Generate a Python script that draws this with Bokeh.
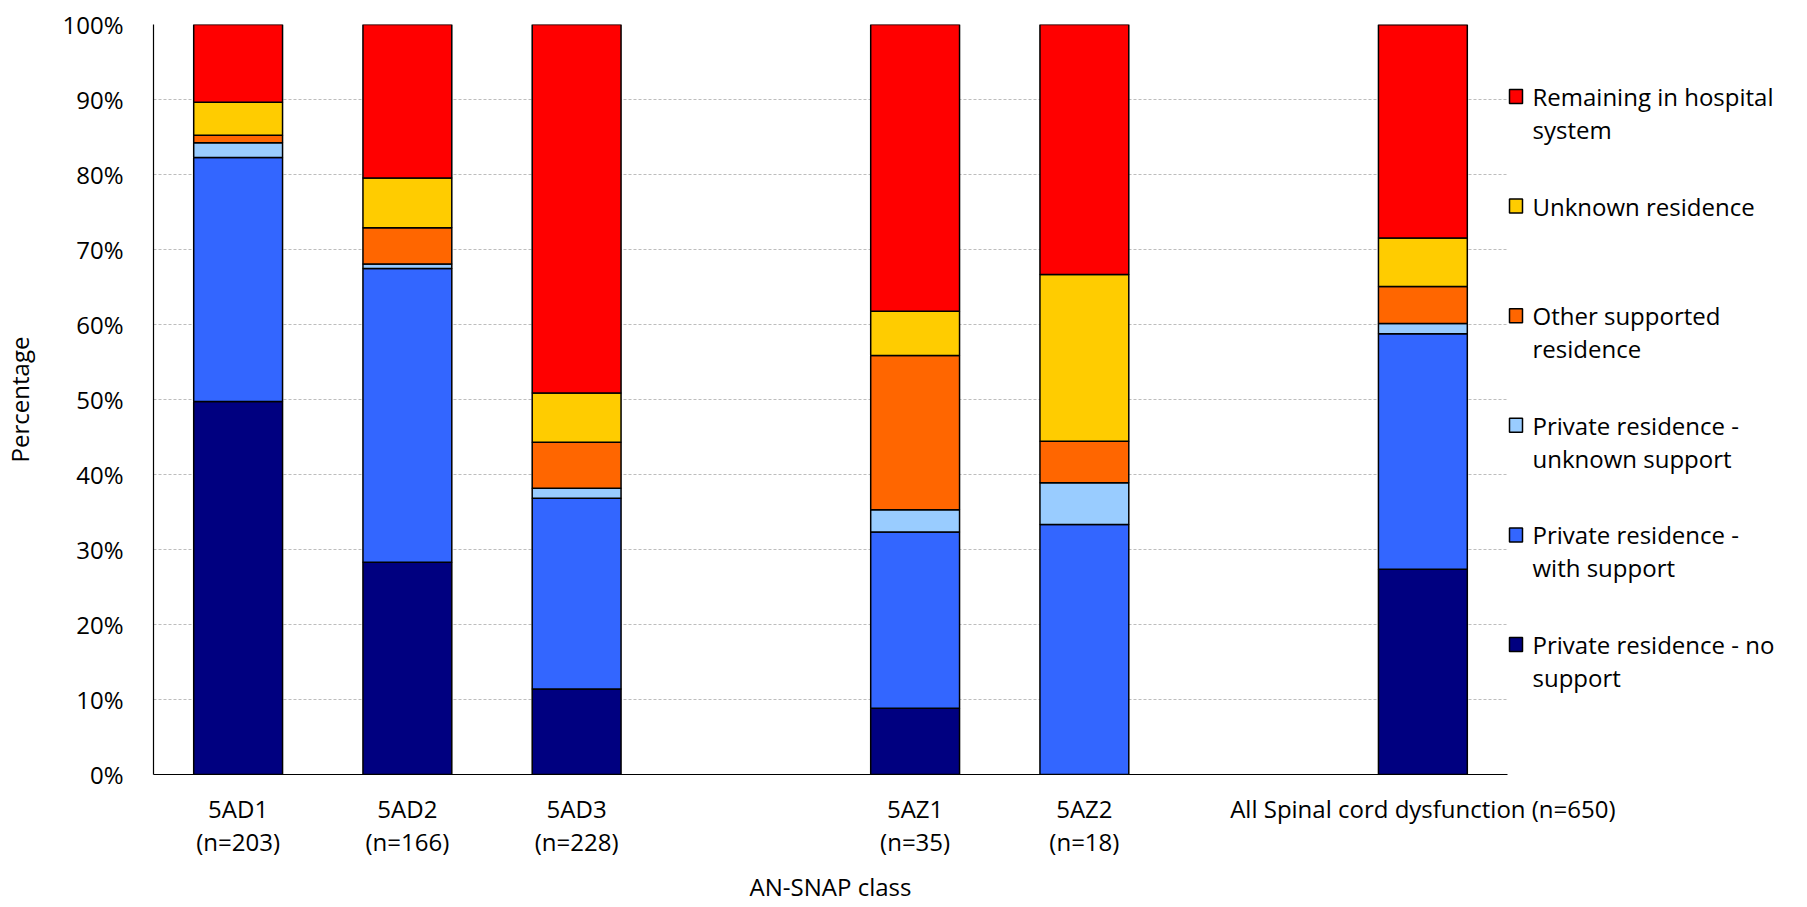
from bokeh.plotting import figure
from bokeh.layouts import row
from bokeh.models import ColumnDataSource, FactorRange, Range1d, FixedTicker, PrintfTickFormatter
from bokeh.core.properties import value
from bokeh.embed import file_html
from bokeh.resources import INLINE

# ---- data ----
factors = ["5AD1\n(n=203)", "5AD2\n(n=166)", "5AD3\n(n=228)", " ",
           "5AZ1\n(n=35)", "5AZ2\n(n=18)", "  ", "All Spinal cord dysfunction (n=650)"]
categories = ["5AD1\n(n=203)", "5AD2\n(n=166)", "5AD3\n(n=228)",
              "5AZ1\n(n=35)", "5AZ2\n(n=18)", "All Spinal cord dysfunction (n=650)"]
no_support = [49.75, 28.31, 11.40, 8.82, 0.0, 27.38]
with_support = [32.51, 39.16, 25.44, 23.53, 33.33, 31.38]
unknown_support = [1.97, 0.60, 1.32, 2.94, 5.56, 1.38]
other_supported = [0.99, 4.82, 6.14, 20.59, 5.56, 4.92]
unknown_residence = [4.43, 6.63, 6.58, 5.88, 22.22, 6.46]
hospital = [10.34, 20.48, 49.12, 38.24, 33.33, 28.46]
y_ticks = [0, 10, 20, 30, 40, 50, 60, 70, 80, 90, 100]

series = ["no_support", "with_support", "unknown_support", "other_supported", "unknown_residence", "hospital"]
colors = ["#000080", "#3366FF", "#99CCFF", "#FF6600", "#FFCC00", "#FF0000"]
# legend entries, top to bottom
legend_line1 = ["Remaining in hospital", "Unknown residence", "Other supported",
                "Private residence -", "Private residence -", "Private residence - no"]
legend_line2 = ["system", "", "residence", "unknown support", "with support", "support"]
legend_colors = colors[::-1]

source = ColumnDataSource(data=dict(cat=categories, no_support=no_support, with_support=with_support,
                                    unknown_support=unknown_support, other_supported=other_supported,
                                    unknown_residence=unknown_residence, hospital=hospital))

FONT = "Open Sans"
FS = "24px"
W, H = 1797, 906
LEG_W = 290
TOP, BOTTOM = 24, 132

p = figure(x_range=FactorRange(*factors, range_padding=0), y_range=Range1d(0, 100),
           width=W, height=H, output_backend="svg", toolbar_location=None,
           min_border_left=153, min_border_top=TOP, min_border_bottom=BOTTOM, min_border_right=LEG_W)

p.vbar_stack(series, x="cat", width=0.525, source=source, color=colors,
             line_color="black", line_width=1.5)

# axes
p.yaxis.ticker = FixedTicker(ticks=y_ticks)
p.yaxis.formatter = PrintfTickFormatter(format="%d%%")
for ax in (p.xaxis[0], p.yaxis[0]):
    ax.major_tick_line_color = None
    ax.minor_tick_line_color = None
    ax.major_label_text_font = FONT
    ax.major_label_text_font_size = FS
    ax.major_label_text_color = "black"
    ax.axis_label_text_font = FONT
    ax.axis_label_text_font_size = FS
    ax.axis_label_text_font_style = "normal"
    ax.axis_label_text_color = "black"
    ax.axis_line_color = "black"
    ax.axis_line_width = 1.2
p.yaxis.axis_label = "Percentage"
p.xaxis.axis_label = "AN-SNAP class"
p.yaxis.major_label_standoff = 24
p.yaxis.axis_label_standoff = 23
p.xaxis.major_label_standoff = 11
p.xaxis.major_label_text_line_height = 1.0
p.xaxis.axis_label_standoff = 9

p.xgrid.grid_line_color = None
p.ygrid.grid_line_color = "#bdbdbd"
p.ygrid.grid_line_dash = "3 2"
p.ygrid.grid_line_width = 1.2
p.outline_line_color = None

# ---- legend panel (overlaps the right border of the main figure) ----
# its frame is aligned with the main frame (page rows TOP .. H-BOTTOM); y data = page pixel row
n = len(legend_line1)
top_line, entry_step, line_step = 96, 109.6, 33
row1 = [top_line + entry_step * i for i in range(n)]
row2 = [r + line_step for r in row1]
leg_src = ColumnDataSource(data=dict(y1=row1, y2=row2, t1=legend_line1, t2=legend_line2, c=legend_colors))

leg = figure(width=LEG_W, height=H, x_range=Range1d(0, LEG_W), y_range=Range1d(H - BOTTOM, TOP),
             output_backend="svg", toolbar_location=None, x_axis_type=None, y_axis_type=None,
             min_border=0, min_border_left=0, min_border_right=0,
             min_border_top=TOP, min_border_bottom=BOTTOM,
             margin=(0, 0, 0, -LEG_W))
leg.grid.visible = False
leg.outline_line_color = None
leg.background_fill_alpha = 0
leg.border_fill_alpha = 0
leg.rect(x=8.5, y="y1", width=13, height=14, fill_color="c", line_color="black", line_width=1.5,
         source=leg_src)
for col in ("t1", "t2"):
    leg.text(x=25, y="y1" if col == "t1" else "y2", text=col, source=leg_src,
             text_font=value(FONT), text_font_size=FS, text_color="black",
             text_baseline="middle", text_align="left")

layout = row(p, leg, spacing=0)
open("out.html", "w").write(file_html(layout, INLINE))
